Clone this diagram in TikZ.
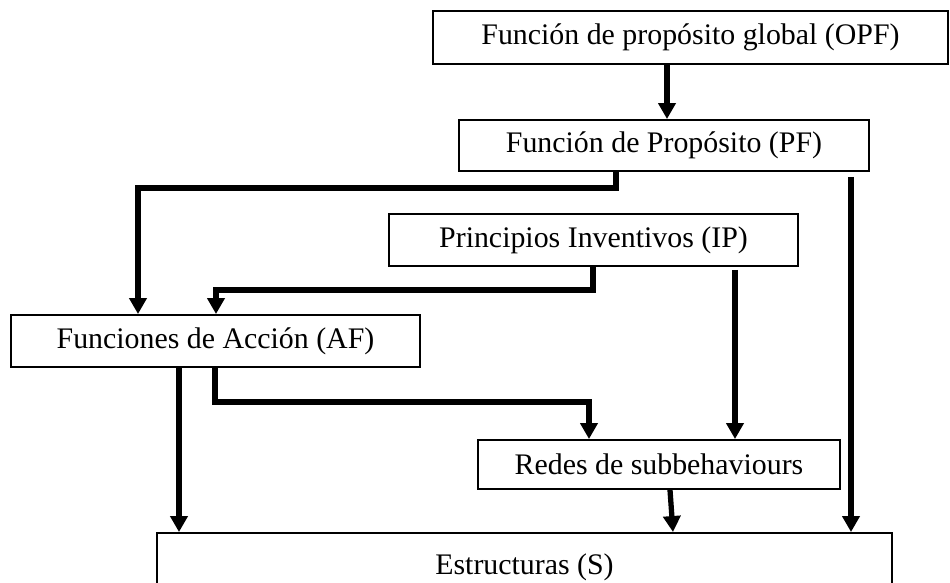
\documentclass[tikz,border=0pt]{standalone}
\usepackage{fontspec}
\setmainfont{Liberation Serif}
\usetikzlibrary{positioning, arrows.meta}

\begin{document}
\begin{tikzpicture}[
        x=0.02cm, y=-0.02cm,
        box/.style={rectangle, draw, line width=1.1pt, inner sep=0pt, text centered, font=\fontsize{17}{20}\selectfont},
        arrow/.style={-{Triangle[length=0.32cm, width=0.34cm]}, line width=3pt}
    ]
    \useasboundingbox (0,0) rectangle (950,582);

    % Boxes
    \node[box, minimum width=10.3cm, minimum height=1.06cm] (opf) at (690.5,37.5) {Función de propósito global (OPF)};
    \node[box, minimum width=8.2cm, minimum height=1.02cm] (pf) at (664,145.5) {Función de Propósito (PF)};
    \node[box, minimum width=8.18cm, minimum height=1.04cm] (ip) at (593.5,240) {Principios Inventivos (IP)};
    \node[box, minimum width=8.18cm, minimum height=1.04cm] (af) at (215.5,341) {Funciones de Acción (AF)};
    \node[box, minimum width=7.24cm, minimum height=0.98cm] (redes) at (659,464.5) {Redes de subbehaviours};
    \node[box, minimum width=14.7cm, minimum height=1.36cm] (s) at (524.5,567) {Estructuras (S)};

    % Arrows
    \draw[arrow] (opf.south -| 667,0) -- (pf.north -| 667,0);
    \draw[arrow] (pf.south -| 616,0) |- (138,188) -- (af.north -| 138,0);
    \draw[arrow, shorten <=0.1cm] (pf.south -| 851,0) -- (s.north -| 851,0);
    \draw[arrow] (ip.south -| 593,0) |- (216,290) -- (af.north -| 216,0);
    \draw[arrow, shorten <=0.06cm] (ip.south -| 735,0) -- (redes.north -| 735,0);
    \draw[arrow] (af.south -| 179,0) -- (s.north -| 179,0);
    \draw[arrow] (af.south -| 215,0) |- (589,402) -- (redes.north -| 589,0);
    \draw[arrow] (redes.south -| 670,0) -- (s.north -| 673,0);

\end{tikzpicture}
\end{document}
